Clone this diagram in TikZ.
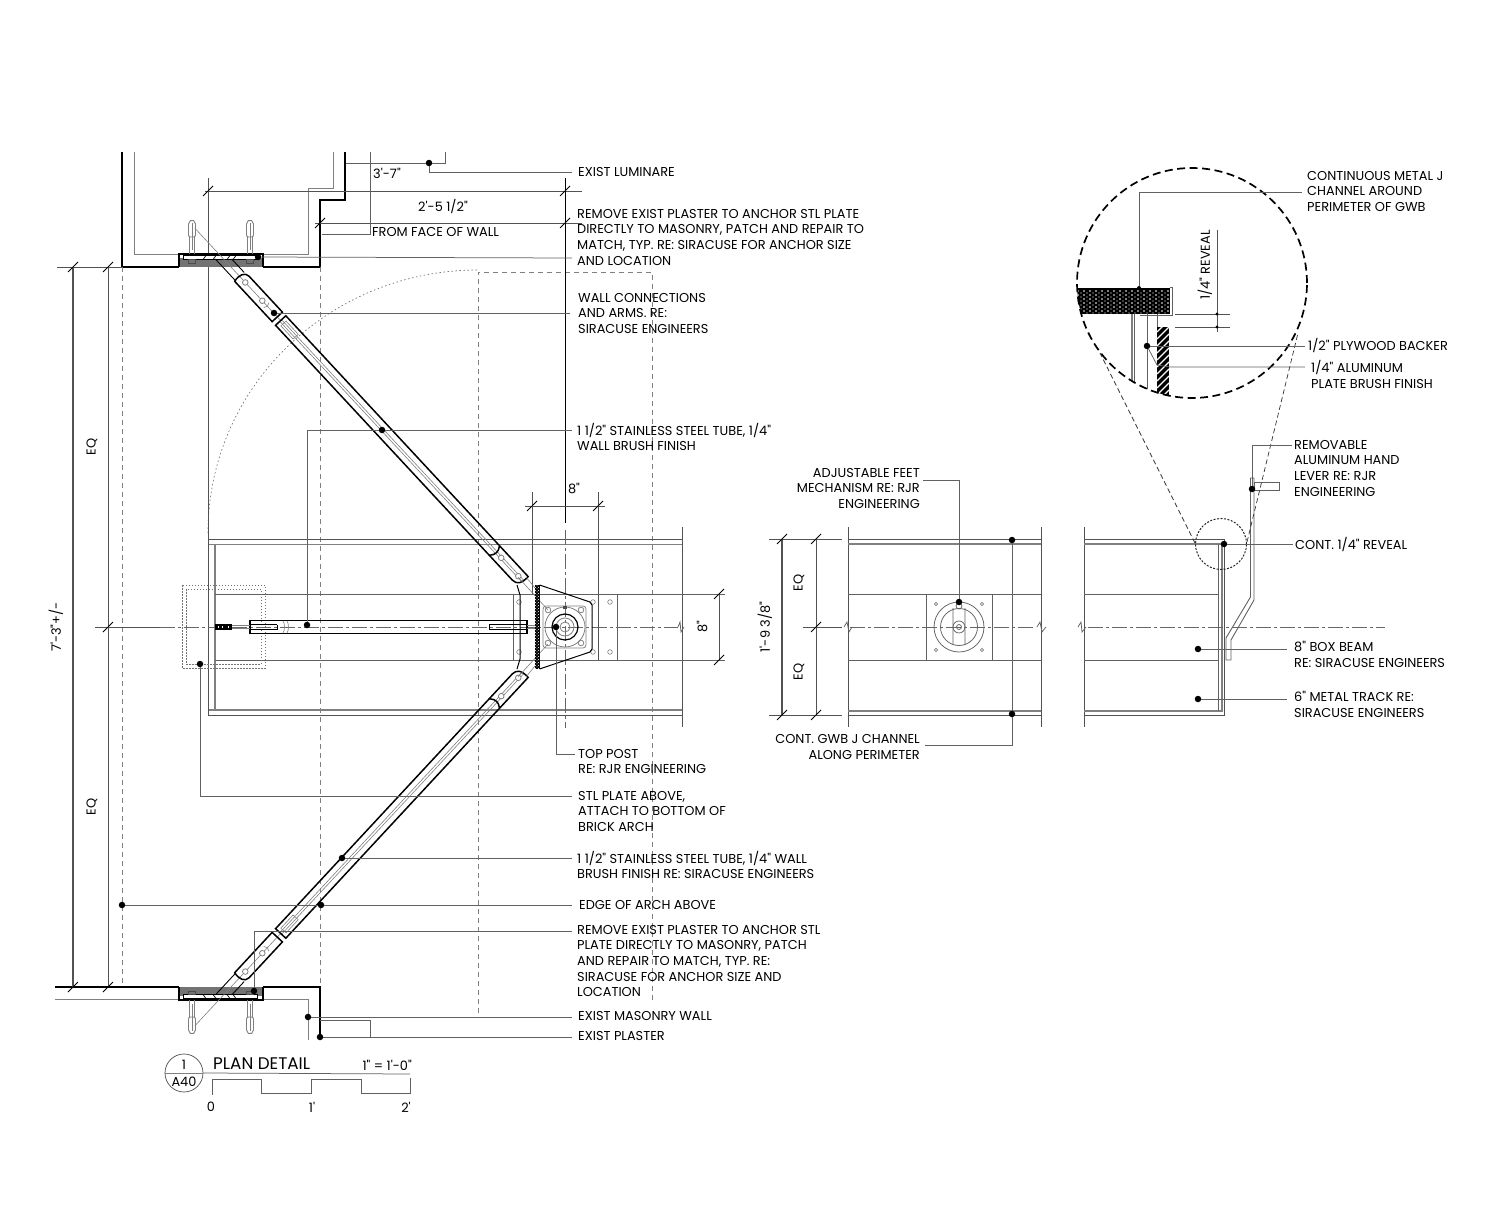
\documentclass[tikz,border=0pt]{standalone}
\usepackage{fontspec}
\newfontfamily\planfont{Poppins}
\usetikzlibrary{patterns}
\tikzset{
  wallline/.style={line width=1.7pt,black},
  armline/.style={line width=1.5pt,black},
  leadline/.style={line width=.75pt,black!62},
  dimline/.style={line width=.8pt,black!68},
  fineline/.style={line width=.6pt,black!50},
  beamline/.style={line width=1.7pt,black!50},
  hiddenline/.style={line width=.8pt,black!50,dash pattern=on 5pt off 4pt},
  centerline/.style={line width=.7pt,black!60,dash pattern=on 15pt off 3pt on 3pt off 3pt},
  tickline/.style={line width=.9pt,black},
  plandot/.style={circle,fill=black,inner sep=0pt,minimum size=6.5pt},
  planlabel/.style={anchor=north west,inner sep=0pt,align=left,font=\planfont\fontsize{12.9}{15.6}\selectfont,black},
  planright/.style={planlabel,anchor=north east,align=right},
  plantext/.style={inner sep=0pt,font=\planfont\fontsize{12.9}{15.6}\selectfont,black}
}
% bracket, anchors and arm at the top wall, mirrored for the bottom wall
\newcommand{\armbracket}{
  \fill[black!55] (179,258) rectangle (263,267);
  \draw[armline] (179,267) -- (179,254) -- (263,254) -- (263,267);
  \draw[line width=.8pt,fill=white] (183,255.5) rectangle (257,259.5);
  \foreach \hx in {203,213,227,233}
    \draw[line width=.7pt] (\hx,259.5) -- (\hx+3,255.5);
  \foreach \bx in {192,250} {
    \draw[fineline,line width=.8pt] (\bx-2.5,237) -- (\bx-2.5,254) (\bx+2.5,237) -- (\bx+2.5,254);
    \draw[fineline,line width=.9pt,rounded corners=2pt] (\bx-3.5,237) -- (\bx-3.5,222) -- (\bx,219.5) -- (\bx+3.5,222) -- (\bx+3.5,237) -- cycle;
    \draw[fineline] (\bx,223) -- (\bx,250);
    \draw[line width=.7pt,black!70] (\bx-3.5,259.5) rectangle (\bx+3.5,263);
  }
  \begin{scope}[shift={(223.5,259)},rotate=-47.1]
    \draw[fineline] (-42,0) -- (84,0) (84,-1.2) -- (440,-1.2) (84,1.2) -- (440,1.2);
    \draw[line width=.9pt] (-5.6,6) -- (24,6) (5.6,-6) -- (24,-6);
    \draw[armline] (79,-7) -- (30,-7) .. controls (24,-7) and (22,0) .. (24,7) -- (79,7) -- cycle;
    \draw[armline] (398,-7) -- (84,-7) -- (84,7) -- (398,7);
    \draw[armline] (398,-7) .. controls (402,-2) and (402,2) .. (398,7);
    \draw[armline] (398,-7) -- (440,-7) .. controls (441,2) and (438,7) .. (432,7) -- (398,7);
    \draw[fineline] (88,-3.5) rectangle (106,3.5);
    \draw[fineline] (63,-3.5) .. controls (65,-1) and (65,1) .. (63,3.5);
    \foreach \ps in {32,57,408,433}
      \draw[fineline,line width=.8pt,fill=white] (\ps,0) circle[radius=2.8pt];
  \end{scope}
}
\begin{document}
\begin{tikzpicture}[x=1pt,y=-1pt]
  \useasboundingbox (0,0) rectangle (1500,1225);
  % walls and plaster
  \draw[wallline] (122,152) -- (122,267) -- (179,267);
  \draw[wallline] (263,267) -- (320,267) -- (320,200) -- (345,200) -- (345,152);
  \draw[wallline] (55,987) -- (179,987);
  \draw[wallline] (263,987) -- (320,987) -- (320,1037);
  \draw[fineline] (134,152) -- (134,254) -- (179,254) (263,254) -- (308,254) -- (308,188) -- (333,188) -- (333,152);
  \draw[fineline] (55,999) -- (179,999) (263,999) -- (308,999) -- (308,1040);
  % arch lines
  \draw[hiddenline] (122,267) -- (122,987);
  \draw[hiddenline] (320,267) -- (320,987);
  \draw[hiddenline] (478,1013) -- (478,272) -- (652,272) -- (652,1003);
  \draw[line width=.7pt,black!55,dash pattern=on 1.5pt off 2.5pt] (208,533) arc[start angle=180,end angle=90,x radius=270pt,y radius=263pt];
  % box beam, plan
  \draw[dimline] (208,539) -- (682,539) (208,715) -- (682,715);
  \draw[beamline] (208,544.5) -- (682,544.5) (208,710) -- (682,710);
  \draw[beamline,line width=1.1pt] (215,544) -- (215,711);
  \draw[dimline] (208,178) -- (208,716) (682,527) -- (682,727);
  \draw[leadline] (215,594) -- (725,594) (215,660) -- (725,660);
  \draw[leadline] (513,594) -- (513,660) (617,594) -- (617,660);
  \draw[dimline] (532,492) -- (532,594) (598,492) -- (598,660);
  \foreach \px/\py in {519/602,519/652,593/602,610/602,593/652,610/652}
    \draw[fineline] (\px,\py) circle[radius=2.3pt];
  \draw[centerline] (160,627) -- (678,627);
  \draw[leadline] (678,627) -- (680,622) -- (681,632) -- (684,627);
  \draw[centerline] (565,530) -- (565,728);
  % dotted plate above
  \draw[line width=.7pt,black!55,dash pattern=on 1.5pt off 1.5pt] (182,585) rectangle (265,668) (186,589) rectangle (261,664);
  % arms at the walls
  \begin{scope}
    \armbracket
  \end{scope}
  \begin{scope}[shift={(0,1254)},yscale=-1]
    \armbracket
  \end{scope}
  % middle arm
  \draw[armline] (527,620.7) -- (250,620.7) -- (250,633.3) -- (527,633.3) -- cycle;
  \draw[line width=.9pt] (277,624.8) -- (250,624.8) (250,629.2) -- (277,629.2) -- (277,624.8);
  \draw[line width=.9pt] (527,624.8) -- (489,624.8) -- (489,629.2) -- (527,629.2);
  \draw[fineline] (232,625.5) -- (250,625.5) (232,628.5) -- (250,628.5) (527,625.5) -- (535,625.5) (527,628.5) -- (535,628.5);
  \fill[black] (215,624.3) rectangle (232,629.7);
  \foreach \rx in {218,222,228}
    \fill[white] (\rx,626) rectangle (\rx+1.4,628);
  \draw[fineline] (283,621) .. controls (285,624) and (285,630) .. (283,633) (287,621) .. controls (289,624) and (289,630) .. (287,633);
  % bracket at the post
  \draw[line width=1pt] (517,585) -- (520,595) -- (520,659) -- (517,669);
  \draw[fineline] (526,577) -- (535,588) (526,677) -- (535,666) (518,577) -- (548,610) (518,677) -- (548,644);
  \fill[black] (535,585) rectangle (539.5,669);
  \fill[pattern=crosshatch dots,pattern color=white] (535,585) rectangle (539.5,669);
  \draw[line width=1pt] (539.5,585) -- (590,602) -- (592,605) -- (592,649) -- (590,652) -- (539.5,669);
  \draw[fineline,line width=.8pt,rounded corners=3pt] (543,606) rectangle (586,648);
  \foreach \px/\py in {548/610,581/610,548/643,581/643}
    \draw[fineline,line width=.8pt] (\px,\py) circle[radius=2.8pt];
  \draw[fineline,line width=.8pt] (565,627) circle[radius=20pt] (565,627) circle[radius=9pt] (565,627) circle[radius=5pt];
  \draw[line width=1.2pt] (565,627) circle[radius=13pt];
  \fill[black!70] (563,606) rectangle (567,609);
  % elevation at the post
  \draw[dimline] (848,527) -- (848,727) (1041,527) -- (1041,727);
  \draw[dimline] (848,539) -- (1041,539) (848,715) -- (1041,715);
  \draw[beamline] (848,544) -- (1041,544) (848,711) -- (1041,711);
  \draw[leadline] (848,594) -- (1041,594) (848,660) -- (1041,660) (926,594) -- (926,660) (992,594) -- (992,660);
  \draw[centerline] (850,627) -- (1036,627);
  \draw[leadline] (844,627) -- (847,622) -- (849,632) -- (852,627) (1037,627) -- (1040,622) -- (1042,632) -- (1046,627);
  \draw[leadline] (959,627) circle[radius=25pt] (959,627) circle[radius=18.5pt] (959,627) circle[radius=6pt] (959,627) circle[radius=2.5pt];
  \draw[leadline] (953,608) -- (953,645) (965,608) -- (965,645) (959,606) circle[radius=3pt];
  \foreach \px/\py in {936/604,982/604,936/650,982/650}
    \draw[fineline] (\px,\py) circle[radius=1.6pt];
  % elevation at the hand lever
  \draw[dimline] (1084,527) -- (1084,727);
  \draw[dimline] (1084,539) -- (1224,539) -- (1224,715) -- (1084,715);
  \draw[beamline] (1084,544) -- (1222,544) -- (1222,711) -- (1084,711);
  \draw[leadline] (1218,544) -- (1218,711) (1084,594) -- (1218,594) (1084,660) -- (1218,660);
  \draw[centerline] (1088,627) -- (1385,627);
  \draw[leadline] (1078,627) -- (1081,622) -- (1082,632) -- (1086,627);
  \draw[leadline,line width=.9pt] (1226,660) -- (1226,638) -- (1250.5,597) -- (1250.5,478) -- (1254,478) -- (1254,600) -- (1231,640) -- (1231,660) -- cycle;
  \draw[leadline] (1254,482) rectangle (1279,490);
  \draw[line width=1pt,black!85,dash pattern=on 2pt off 1.5pt] (1221,544) circle[radius=25.5pt];
  \draw[line width=.7pt,black!80,dash pattern=on 5pt off 3pt] (1195,543) -- (1100,353) (1247,542) -- (1298,333);
  % enlarged detail of the reveal
  \begin{scope}
    \clip (1192,283) circle[radius=115pt];
    \fill[black] (1070,288) rectangle (1170,314);
    \foreach \ry in {291,295,...,312} {
      \foreach \rx in {1072,1078,...,1170} {
        \fill[white] (\rx,\ry) circle[radius=.8pt];
        \fill[white] (\rx+3,\ry+2) circle[radius=.6pt];
      }
    }
    \draw[leadline,line width=1pt] (1170,288) -- (1172,288) -- (1172,315) -- (1140,315);
    \begin{scope}
      \clip (1157,327) rectangle (1169,400);
      \fill[black] (1157,327) rectangle (1169,400);
      \foreach \hy in {332,339,...,416}
        \draw[white,line width=1.2pt] (1157,\hy) -- (1169,\hy-12);
    \end{scope}
    \draw[beamline,line width=1.4pt] (1132,314) -- (1132,400);
    \draw[leadline] (1134.5,314) -- (1134.5,400) (1147,314) -- (1147,400) (1157,314) -- (1157,327);
  \end{scope}
  \draw[line width=1.7pt,dash pattern=on 8pt off 4.5pt] (1192,283) circle[radius=115pt];
  \draw[dimline] (1217,230) -- (1217,332) (1175,314) -- (1230,314) (1175,327) -- (1230,327);
  \fill (1217,314) circle[radius=1.6pt] (1217,327) circle[radius=1.6pt];
  % dimensions
  \draw[dimline,line width=1.1pt] (73,267) -- (73,987);
  \draw[dimline] (108,267) -- (108,987);
  \draw[dimline] (57,267) -- (122,267) (95,627) -- (160,627);
  \draw[dimline] (205,191) -- (582,191) (315,223) -- (582,223);
  \draw[line width=1pt] (565,178) -- (565,523);
  \draw[dimline] (525,506) -- (605,506);
  \draw[dimline] (719,594) -- (719,660);
  \draw[dimline,line width=1.1pt] (782,539) -- (782,715);
  \draw[dimline] (816,539) -- (816,715) (769,539) -- (842,539) (769,715) -- (842,715) (803,627) -- (842,627);
  \foreach \p in {(73,267),(108,267),(108,627),(73,987),(108,987),(208,191),(320,223),(565,191),(565,223),(532,506),(598,506),(719,594),(719,660),(782,539),(816,539),(816,627),(782,715),(816,715)}
    \draw[tickline] \p +(-5,5) -- +(5,-5);
  % leader dots
  \draw
    (429,163) node[plandot] (luminaredot){}
    (258,257) node[plandot] (topplatedot){}
    (274,313) node[plandot] (connectdot){}
    (382,430) node[plandot] (uppertubedot){}
    (307,625) node[plandot] (midtubedot){}
    (556,627) node[plandot] (postdot){}
    (200,664) node[plandot] (stlplatedot){}
    (342,858) node[plandot] (lowertubedot){}
    (122,905) node[plandot] (archdot){}
    (321,905) node[plandot] (archdotb){}
    (254,991) node[plandot] (botplatedot){}
    (308,1017) node[plandot] (masonrydot){}
    (320,1037) node[plandot] (plasterdot){}
    (959,602) node[plandot] (feetdot){}
    (1012,540) node[plandot] (channeldot){}
    (1012,714) node[plandot] (channeldotb){}
    (1252,489) node[plandot] (leverdot){}
    (1224,544) node[plandot] (revealdot){}
    (1198,649) node[plandot] (beamdot){}
    (1198,699) node[plandot] (trackdot){}
    (1147,346) node[plandot] (plywooddot){}
    (1139,288) node[plandot,minimum size=4pt] (perimdot){};
  % labels
  \node[planlabel] (luminare) at (578,167) {EXIST LUMINARE};
  \node[planlabel] (removetop) at (577,209) {REMOVE EXIST PLASTER TO ANCHOR STL PLATE\\DIRECTLY TO MASONRY, PATCH AND REPAIR TO\\MATCH, TYP. RE: SIRACUSE FOR ANCHOR SIZE\\AND LOCATION};
  \node[planlabel] (faceofwall) at (372,227) {FROM FACE OF WALL};
  \node[planlabel] (connections) at (578,293) {WALL CONNECTIONS\\AND ARMS. RE:\\SIRACUSE ENGINEERS};
  \node[planlabel] (uppertube) at (577,423) {1 1/2" STAINLESS STEEL TUBE, 1/4"\\WALL BRUSH FINISH};
  \node[planlabel] (toppost) at (578,749) {TOP POST\\RE: RJR ENGINEERING};
  \node[planlabel] (stlplate) at (578,791) {STL PLATE ABOVE,\\ATTACH TO BOTTOM OF\\BRICK ARCH};
  \node[planlabel] (lowertube) at (577,851) {1 1/2" STAINLESS STEEL TUBE, 1/4" WALL\\BRUSH FINISH RE: SIRACUSE ENGINEERS};
  \node[planlabel] (archedge) at (579,900) {EDGE OF ARCH ABOVE};
  \node[planlabel] (removebot) at (577,925) {REMOVE EXIST PLASTER TO ANCHOR STL\\PLATE DIRECTLY TO MASONRY, PATCH\\AND REPAIR TO MATCH, TYP. RE:\\SIRACUSE FOR ANCHOR SIZE AND\\LOCATION};
  \node[planlabel] (masonry) at (578,1011) {EXIST MASONRY WALL};
  \node[planlabel] (plaster) at (578,1031) {EXIST PLASTER};
  \node[planright] (feet) at (920,468) {ADJUSTABLE FEET\\MECHANISM RE: RJR\\ENGINEERING};
  \node[planright] (channel) at (920,734.5) {CONT. GWB J CHANNEL\\ALONG PERIMETER};
  \node[planlabel] (perimeter) at (1307,171) {CONTINUOUS METAL J\\CHANNEL AROUND\\PERIMETER OF GWB};
  \node[planlabel] (plywood) at (1308,338.5) {1/2" PLYWOOD BACKER};
  \node[planlabel] (aluminum) at (1311,360.5) {1/4" ALUMINUM\\PLATE BRUSH FINISH};
  \node[planlabel] (lever) at (1294,440) {REMOVABLE\\ALUMINUM HAND\\LEVER RE: RJR\\ENGINEERING};
  \node[planlabel] (reveal) at (1295,537) {CONT. 1/4" REVEAL};
  \node[planlabel] (beam) at (1294,641) {8" BOX BEAM\\RE: SIRACUSE ENGINEERS};
  \node[planlabel] (track) at (1294,691) {6" METAL TRACK RE:\\SIRACUSE ENGINEERS};
  % dimension texts
  \node[plantext] (dimc) at (387,173) {3'-7"};
  \node[plantext] (dimb) at (443,207) {2'-5 1/2"};
  \node[plantext] (dimeight) at (574,488) {8"};
  \node[plantext,rotate=90] (dimeightb) at (702,627) {8"};
  \node[plantext,rotate=90] (dimall) at (56,627) {7'-3"+/-};
  \node[plantext,rotate=90] (eqa) at (92,447) {EQ};
  \node[plantext,rotate=90] (eqb) at (92,807) {EQ};
  \node[plantext,rotate=90] (dimbeam) at (765,627) {1'-9 3/8"};
  \node[plantext,rotate=90] (eqc) at (799,583) {EQ};
  \node[plantext,rotate=90] (eqd) at (799,672) {EQ};
  \node[plantext,rotate=90] (dimreveal) at (1205,265) {1/4" REVEAL};
  % free ends of the leaders
  \coordinate (luminareend) at (572,172);
  \coordinate (removetopend) at (572,258);
  \coordinate (connectend) at (570,313);
  \coordinate (uppertubeend) at (572,430);
  \coordinate (topostend) at (575,754);
  \coordinate (stlplateend) at (572,796);
  \coordinate (lowertubeend) at (572,858);
  \coordinate (archend) at (572,905);
  \coordinate (removebotend) at (572,931);
  \coordinate (masonryend) at (572,1017);
  \coordinate (plasterend) at (572,1037);
  \coordinate (feetend) at (923,480);
  \coordinate (channelend) at (925,745);
  \coordinate (perimend) at (1302,192);
  \coordinate (plywoodend) at (1305,346);
  \coordinate (aluminumend) at (1305,367);
  \coordinate (leverend) at (1292,445);
  \coordinate (revealend) at (1293,544);
  \coordinate (beamend) at (1287,649);
  \coordinate (trackend) at (1287,699);
  \coordinate (wallface) at (322,234);
  \coordinate (faceup) at (370,152);
  % leaders
  \begin{scope}[leadline]
    \draw (luminaredot) |- (luminareend);
    \draw (346,163) -- (luminaredot) -- (445,163) -- (445,152);
    \draw (topplatedot) -- (removetopend);
    \draw (connectdot) -- (connectend);
    \draw (midtubedot) |- (uppertubedot);
    \draw (uppertubedot) -- (uppertubeend);
    \draw (postdot) |- (topostend);
    \draw (stlplatedot) |- (stlplateend);
    \draw (lowertubedot) -- (lowertubeend);
    \draw (archdot) -- (archdotb);
    \draw (archdotb) -- (archend);
    \draw (botplatedot) |- (removebotend);
    \draw (masonrydot) -- (masonryend);
    \draw (plasterdot) -- (plasterend);
    \draw (wallface) -| (faceup);
    \draw (320,1020) -| (370,1038);
    \draw (feetdot) |- (feetend);
    \draw (channeldot) -- (channeldotb);
    \draw (channeldotb) |- (channelend);
    \draw (perimdot) |- (perimend);
    \draw (plywooddot) -- (plywoodend);
    \draw (plywooddot) -- (1157,365) -- (1170,367) -- (aluminumend);
    \draw (leverdot) |- (leverend);
    \draw (revealdot) -- (revealend);
    \draw (beamdot) -- (beamend);
    \draw (trackdot) -- (trackend);
  \end{scope}
  % title and scale
  \node[draw=black!70,line width=.7pt,circle,inner sep=0pt,minimum size=38pt] (tagcircle) at (184,1073) {};
  \draw[fineline,line width=.7pt] (tagcircle.west) -- (tagcircle.east);
  \node[plantext] (tagnum) at (184,1065) {1};
  \node[plantext] (tagsheet) at (184,1081.5) {A40};
  \node[plantext,anchor=west,font=\planfont\fontsize{16.8}{18}\selectfont] (plantitle) at (213,1064) {PLAN DETAIL};
  \node[plantext,anchor=east] (planscale) at (412,1065) {1" = 1'-0"};
  \draw[leadline] (tagcircle.east) -- (410,1074);
  \draw[leadline] (212,1095) -- (212,1079) -- (261,1079) -- (261,1093) -- (311,1093) -- (311,1079) -- (361,1079) -- (361,1093) -- (410,1093) -- (410,1078);
  \node[plantext] (scalezero) at (211,1107) {0};
  \node[plantext] (scaleone) at (312,1107) {1'};
  \node[plantext] (scaletwo) at (406,1107) {2'};
\end{tikzpicture}
\end{document}
